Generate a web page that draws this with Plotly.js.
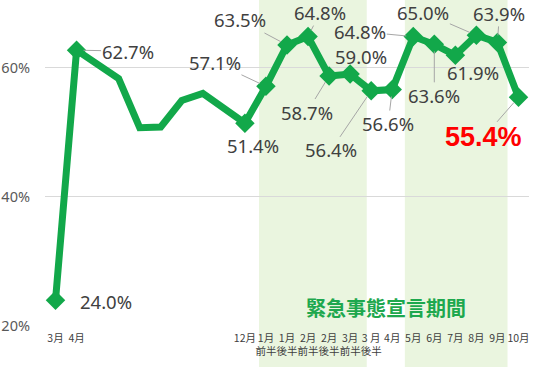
<!DOCTYPE html>
<html>
<head>
<meta charset="utf-8">
<script src="https://cdn.plot.ly/plotly-3.0.1.min.js"></script>
<style>html,body{margin:0;padding:0;background:#fff;}</style>
</head>
<body>
<div id="chart" style="width:533px;height:367px;"></div>
<script>
// Tick labels for each period (blank where the source shows no label)
const tickLabels = ["3月","4月","","","","","","","","12月",
  "1月<br>前半","1月<br>後半","2月<br>前半","2月<br>後半","3月<br>前半","3 月<br>後半",
  "4月","5月","6月","7月","8月","9月","10月"];
// Series values in percent (null = no survey, line bridges the gap)
const values = [24.0, 62.7, null, 58.3, 50.7, 50.8, 54.9, 56.0, null, 51.4,
  57.1, 63.5, 64.8, 58.7, 59.0, 56.4,
  56.6, 64.8, 63.6, 61.9, 65.0, 63.9, 55.4];
// Which values carry a data label (and a diamond marker)
const labelled = [true, true, false, false, false, false, false, false, false, true,
  true, true, true, true, true, true,
  true, true, true, true, true, true, true];
// Emergency declaration periods (in period-index units)
const emergencyStart = [9.67, 16.6];
const emergencyEnd = [14.79, 21.48];
const emergencyText = "緊急事態宣言期間";

// label offsets (pixels) and leader flags — styling only
const labelDX = [50, 51, 0,0,0,0,0,0,0, 8, -51, -47, 12, -22, 11, -40, -4, -53, 0, 18, -53, 2, -35];
const labelDY = [1, 1, 0,0,0,0,0,0,0, 22, -24, -25, -24, 36, -18, 59, 34, -5, 51, 17, -23, -29, 40];
const leader  = [false, true, false,false,false,false,false,false,false, false, true, true, true, true, false, true, true, true, true, false, true, true, true];

const xs = values.map((v, i) => i);
const green = "#12a84a";
const baseFont = "'Noto Sans', 'Noto Sans CJK JP', sans-serif";

const annotations = [];
values.forEach((v, i) => {
  if (v === null || !labelled[i]) return;
  const last = i === values.length - 1;
  const font = last
    ? {family: "'Liberation Sans Narrow', 'Liberation Sans', Arial, sans-serif", size: 27, color: "#ff0000"}
    : {family: baseFont, size: 18.5, color: "#404040"};
  const txt = last ? "<b>" + v.toFixed(1) + "%</b>" : v.toFixed(1) + "%";
  if (leader[i]) {
    annotations.push({x: i, y: v, xref: "x", yref: "y", text: txt, font: font,
      showarrow: true, arrowhead: 0, arrowwidth: 1, arrowcolor: "#a6a6a6",
      standoff: 7, ax: labelDX[i], ay: labelDY[i], borderpad: 0});
  } else {
    annotations.push({x: i, y: v, xref: "x", yref: "y", text: txt, font: font,
      showarrow: false, xshift: labelDX[i], yshift: -labelDY[i], borderpad: 0});
  }
});
annotations.push({x: 15.7, y: 22.9, xref: "x", yref: "y", text: "<b>" + emergencyText + "</b>",
  showarrow: false, font: {family: "'Noto Sans CJK JP', sans-serif", size: 20, color: "#1ea84e"}});

const shapes = emergencyStart.map((s, k) => ({
  type: "rect", xref: "x", yref: "paper", x0: s, x1: emergencyEnd[k], y0: -0.2, y1: 1.02,
  fillcolor: "#eaf5df", line: {width: 0}, layer: "below"
}));

const trace = {
  x: xs, y: values, type: "scatter", mode: "lines+markers", connectgaps: true,
  line: {color: green, width: 7},
  marker: {symbol: "diamond", size: labelled.map(f => f ? 15 : 0), color: green,
    opacity: 1, line: {width: 0, color: green}},
  hoverinfo: "skip", cliponaxis: false
};

const layout = {
  width: 533, height: 367,
  margin: {l: 45, r: 4, t: 3, b: 41},
  paper_bgcolor: "#ffffff", plot_bgcolor: "rgba(0,0,0,0)",
  showlegend: false,
  font: {family: baseFont, color: "#404040"},
  xaxis: {
    range: [-0.5, 22.5], tickvals: xs, ticktext: tickLabels, tickangle: 0,
    showgrid: false, zeroline: false, showline: false, ticks: "",
    ticklabelstandoff: 4,
    tickfont: {size: 10.5, color: "#404040", family: "'Noto Sans CJK JP', sans-serif"}, fixedrange: true
  },
  yaxis: {
    range: [20, 70], tickvals: [20, 40, 60], ticktext: ["20%", "40%", "60%"],
    showgrid: true, gridcolor: "#d9d9d9", gridwidth: 1, zeroline: false, showline: false,
    ticks: "", ticklabelstandoff: 14,
    tickfont: {size: 14.5, color: "#595959", family: "'Noto Sans', sans-serif"}, fixedrange: true
  },
  shapes: shapes,
  annotations: annotations
};

Plotly.newPlot("chart", [trace], layout, {displayModeBar: false, staticPlot: true});
</script>
</body>
</html>
